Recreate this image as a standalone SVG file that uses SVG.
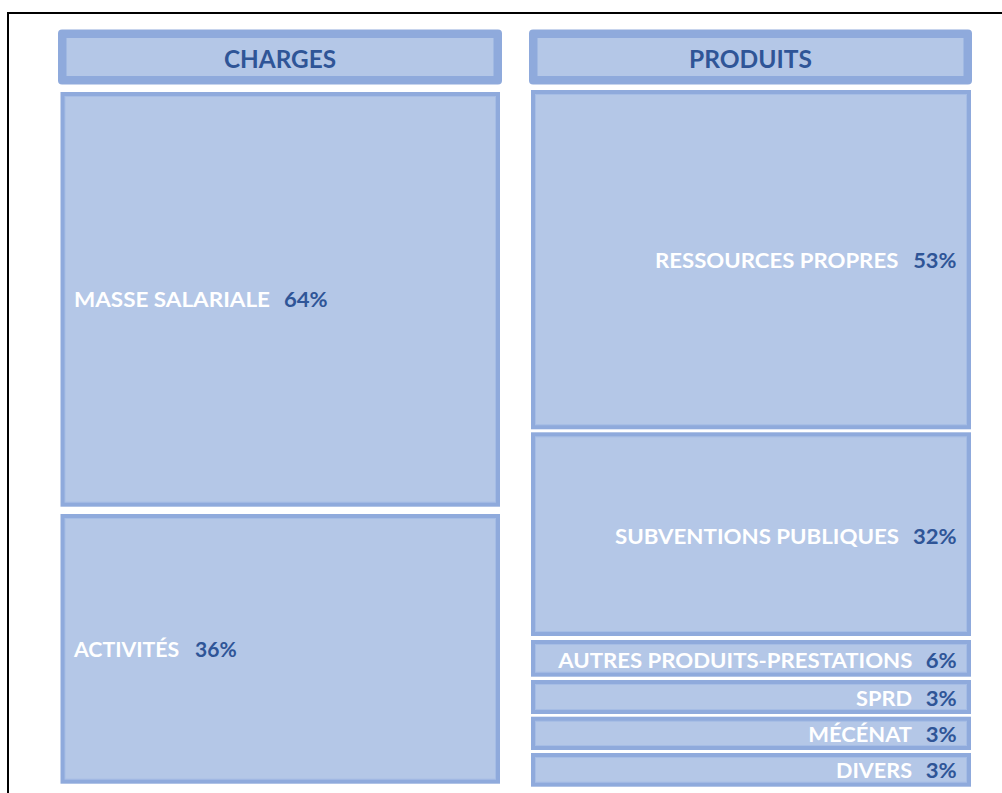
<svg xmlns="http://www.w3.org/2000/svg" width="1002" height="793" viewBox="0 0 1002 793">
<style>
.hdo{fill:#8faadc}
.hdi{fill:#b4c7e7}
.bo{fill:#8faadc}
.bi{fill:#b4c7e7;stroke:#a6bde5;stroke-width:1}
text{font-family:Lato,"Open Sans","Liberation Sans",sans-serif;font-weight:bold}
.ht{fill:#2f5597;font-size:24px;text-anchor:middle}
.lb{fill:#ffffff;font-size:21.5px}
.pc{fill:#2f5597;font-size:21.5px}
.e{text-anchor:end}
</style>
<rect x="0" y="0" width="1002" height="793" fill="#ffffff"/>
<rect x="8" y="13" width="1010" height="800" fill="none" stroke="#000000" stroke-width="2"/>
<g id="header-charges">
<rect class="hdo" x="58" y="29.5" width="444" height="55" rx="4"/>
<rect class="hdi" x="66.5" y="38" width="427" height="38"/>
<text class="ht" x="280" y="67.5" textLength="112" lengthAdjust="spacingAndGlyphs">CHARGES</text>
</g>
<g id="header-produits">
<rect class="hdo" x="529" y="29.5" width="443" height="55" rx="4"/>
<rect class="hdi" x="537.5" y="38" width="426" height="38"/>
<text class="ht" x="750.5" y="67.5" textLength="123" lengthAdjust="spacingAndGlyphs">PRODUITS</text>
</g>
<g id="masse-salariale">
<rect class="bo" x="60.5" y="92" width="439.5" height="414.7"/>
<rect class="bi" x="65" y="96.5" width="430.5" height="405.7"/>
<text class="lb" x="74" y="307" textLength="196" lengthAdjust="spacingAndGlyphs">MASSE SALARIALE</text>
<text class="pc" x="284" y="307" textLength="43.7" lengthAdjust="spacingAndGlyphs">64%</text>
</g>
<g id="activites">
<rect class="bo" x="60.5" y="514" width="439.5" height="269.7"/>
<rect class="bi" x="65" y="518.5" width="430.5" height="260.7"/>
<text class="lb" x="74" y="657" textLength="105.3" lengthAdjust="spacingAndGlyphs">ACTIVITÉS</text>
<text class="pc" x="195" y="657" textLength="41.7" lengthAdjust="spacingAndGlyphs">36%</text>
</g>
<g id="ressources-propres">
<rect class="bo" x="531" y="90" width="440" height="339.3"/>
<rect class="bi" x="535.5" y="94.5" width="431" height="330.3"/>
<text class="lb e" x="898.3" y="268" textLength="243.3" lengthAdjust="spacingAndGlyphs">RESSOURCES PROPRES</text>
<text class="pc e" x="956.5" y="268" textLength="43.3" lengthAdjust="spacingAndGlyphs">53%</text>
</g>
<g id="subventions-publiques">
<rect class="bo" x="531" y="432.3" width="440" height="203.7"/>
<rect class="bi" x="535.5" y="436.8" width="431" height="194.7"/>
<text class="lb e" x="899" y="544" textLength="284" lengthAdjust="spacingAndGlyphs">SUBVENTIONS PUBLIQUES</text>
<text class="pc e" x="956.7" y="544" textLength="43.7" lengthAdjust="spacingAndGlyphs">32%</text>
</g>
<g id="autres-produits">
<rect class="bo" x="531" y="640" width="440" height="36.7"/>
<rect class="bi" x="535.5" y="644.5" width="431" height="27.7"/>
<text class="lb e" x="912.3" y="667.7" textLength="354" lengthAdjust="spacingAndGlyphs">AUTRES PRODUITS-PRESTATIONS</text>
<text class="pc e" x="956.7" y="667.7" textLength="31" lengthAdjust="spacingAndGlyphs">6%</text>
</g>
<g id="sprd">
<rect class="bo" x="531" y="680" width="440" height="34"/>
<rect class="bi" x="535.5" y="684.5" width="431" height="25"/>
<text class="lb e" x="912" y="706" textLength="56" lengthAdjust="spacingAndGlyphs">SPRD</text>
<text class="pc e" x="956.7" y="706" textLength="31" lengthAdjust="spacingAndGlyphs">3%</text>
</g>
<g id="mecenat">
<rect class="bo" x="531" y="716.7" width="440" height="33.3"/>
<rect class="bi" x="535.5" y="721.2" width="431" height="24.3"/>
<text class="lb e" x="912" y="742.3" textLength="103.7" lengthAdjust="spacingAndGlyphs">MÉCÉNAT</text>
<text class="pc e" x="956.7" y="742.3" textLength="31" lengthAdjust="spacingAndGlyphs">3%</text>
</g>
<g id="divers">
<rect class="bo" x="531" y="753" width="440" height="33.7"/>
<rect class="bi" x="535.5" y="757.5" width="431" height="24.7"/>
<text class="lb e" x="912" y="778.3" textLength="76" lengthAdjust="spacingAndGlyphs">DIVERS</text>
<text class="pc e" x="956.7" y="778.3" textLength="31" lengthAdjust="spacingAndGlyphs">3%</text>
</g>
<g id="connectors"></g>
</svg>
